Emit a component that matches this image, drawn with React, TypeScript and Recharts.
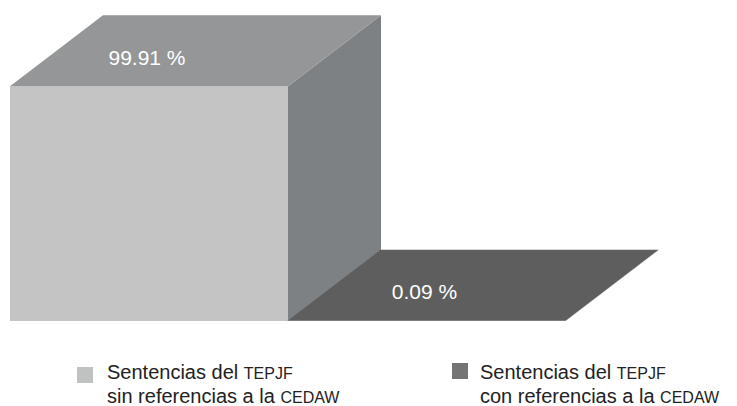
import { Bar, BarChart, LabelList, XAxis, YAxis } from "recharts";

const categories = [
  "Sentencias del TEPJF sin referencias a la CEDAW",
  "Sentencias del TEPJF con referencias a la CEDAW",
];
const values = [99.91, 0.09];
const legendFirst = ["Sentencias del ", "TEPJF"];
const legendSecond = [
  ["sin referencias a la ", "CEDAW"],
  ["con referencias a la ", "CEDAW"],
];

const chartData = categories.map((name, i) => ({ name, value: values[i] }));

// front / top / side colours for each cube
const faces = [
  { front: "#c4c4c4", top: "#949697", side: "#7e8184", key: "#c0c2c2" },
  { front: "#6f6f6f", top: "#5e5e5e", side: "#4f4f4f", key: "#747474" },
];

const DX = 93;
const DY = -71;
const FONT = "'Liberation Sans', Arial, Helvetica, sans-serif";

function Cube(props: any) {
  const { x, y, width: w, height: h, index } = props;
  const c = faces[index];
  return (
    <g>
      <rect x={x} y={y} width={w} height={h} fill={c.front} />
      <polygon
        points={`${x + w},${y} ${x + w + DX},${y + DY} ${x + w + DX},${y + h + DY} ${x + w},${y + h}`}
        fill={c.side}
      />
      <polygon
        points={`${x},${y} ${x + DX},${y + DY} ${x + w + DX},${y + DY} ${x + w},${y}`}
        fill={c.top}
      />
    </g>
  );
}

function TopLabel(props: any) {
  const { x, y, width, value } = props;
  return (
    <text
      x={x + width / 2 - 2}
      y={y - 29}
      fill="#ffffff"
      fontSize={21}
      fontFamily={FONT}
      textAnchor="middle"
      dominantBaseline="central"
    >
      {`${Number(value).toFixed(2)} %`}
    </text>
  );
}

const legendPos = [
  { left: 77, top: 367, textLeft: 107 },
  { left: 452, top: 363, textLeft: 480 },
];

export default function App() {
  return (
    <div
      style={{
        position: "absolute",
        left: 0,
        top: 0,
        width: 737,
        height: 406,
        overflow: "hidden",
        background: "#ffffff",
        fontFamily: FONT,
      }}
    >
      <BarChart
        width={737}
        height={340}
        data={chartData}
        margin={{ top: 86, right: 172, bottom: 19, left: 10 }}
        barCategoryGap={0}
        barGap={0}
      >
        <XAxis dataKey="name" hide />
        <YAxis domain={[0, 100]} hide />
        <Bar
          dataKey="value"
          shape={(p: any) => <Cube {...p} />}
          isAnimationActive={false}
        >
          <LabelList dataKey="value" content={(p: any) => <TopLabel {...p} />} />
        </Bar>
      </BarChart>
      {categories.map((name, i) => (
        <div key={name}>
          <div
            style={{
              position: "absolute",
              left: legendPos[i].left,
              top: legendPos[i].top,
              width: 16,
              height: 16,
              background: faces[i].key,
            }}
          />
          <div
            style={{
              position: "absolute",
              left: legendPos[i].textLeft,
              top: 361,
              fontSize: 20,
              lineHeight: "22px",
              color: "#222222",
              whiteSpace: "nowrap",
            }}
          >
            <div>
              {legendFirst[0]}
              <span style={{ fontSize: 16 }}>{legendFirst[1]}</span>
            </div>
            <div>
              {legendSecond[i][0]}
              <span style={{ fontSize: 16 }}>{legendSecond[i][1]}</span>
            </div>
          </div>
        </div>
      ))}
    </div>
  );
}
